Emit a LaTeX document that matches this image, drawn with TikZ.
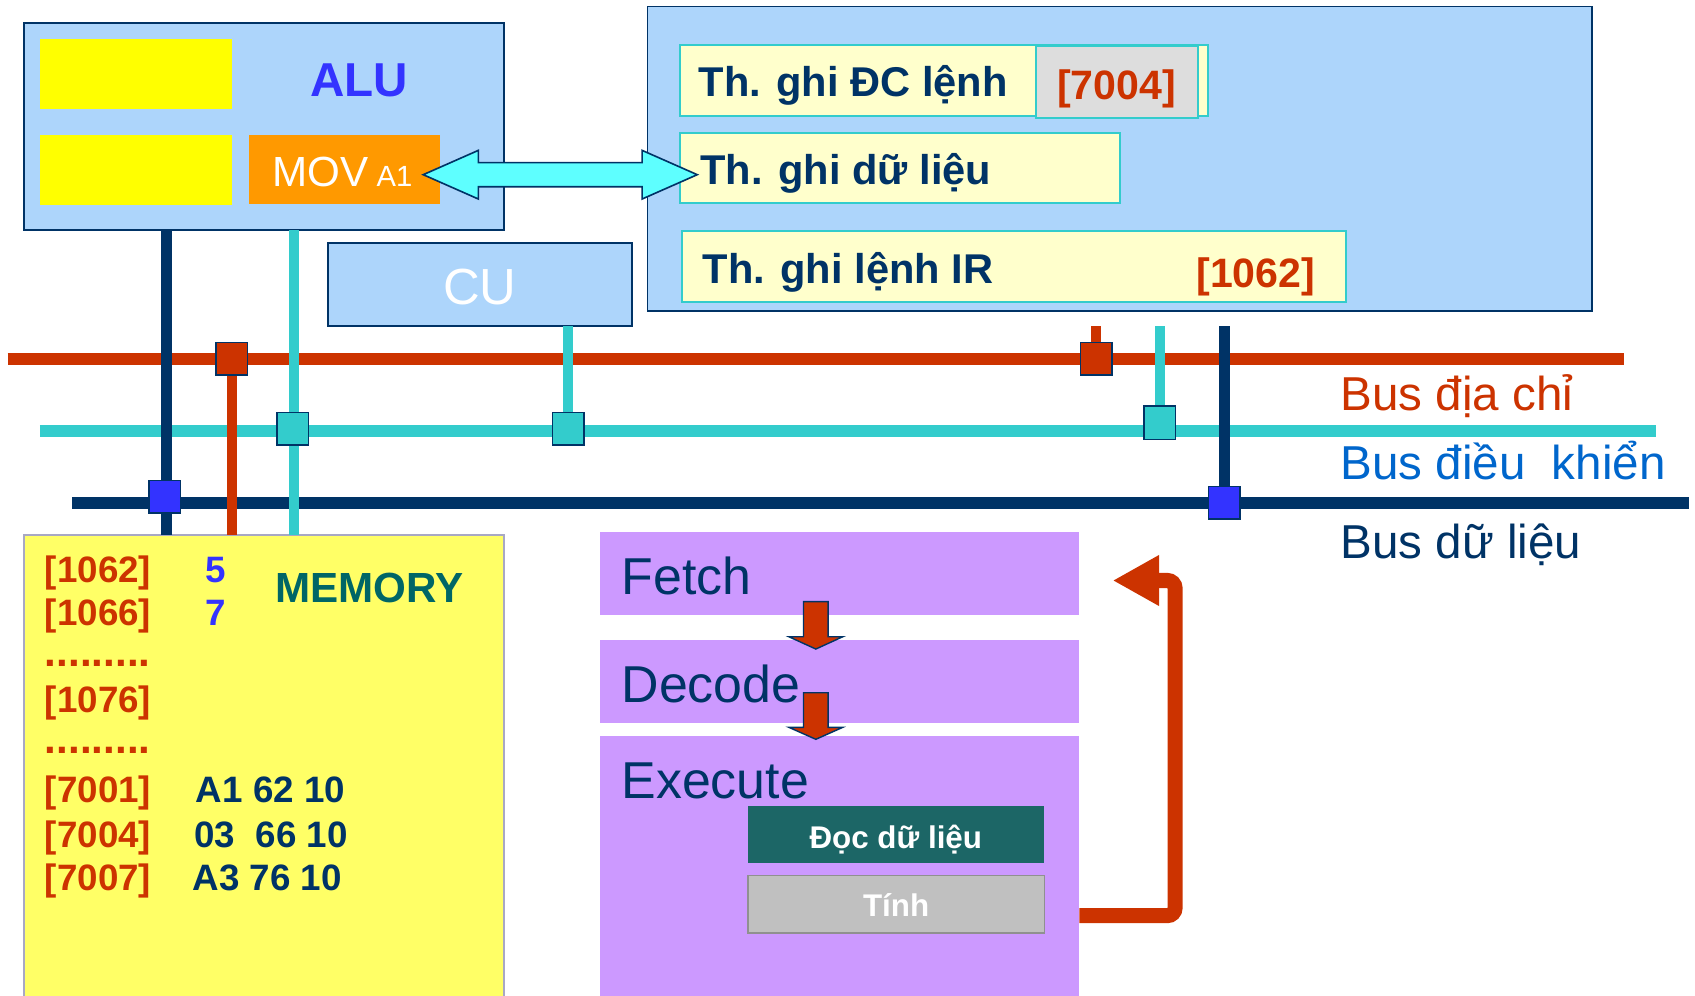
\documentclass[tikz,border=0pt]{standalone}
\usepackage{fontspec}
\setmainfont{Liberation Sans}
\usetikzlibrary{arrows.meta,calc}
\definecolor{navy}{HTML}{003366}
\definecolor{lblue}{HTML}{ADD5FB}
\definecolor{addrred}{HTML}{CC3300}
\definecolor{ctlcyan}{HTML}{33CCCC}
\definecolor{arrcyan}{HTML}{5EFFFF}
\definecolor{regyel}{HTML}{FFFFCC}
\definecolor{memyel}{HTML}{FFFF66}
\definecolor{purp}{HTML}{CC99FF}
\definecolor{tealdk}{HTML}{1C6666}
\definecolor{memteal}{HTML}{006666}
\definecolor{bluetx}{HTML}{3333FF}
\definecolor{busblue}{HTML}{0066CC}
\definecolor{orng}{HTML}{FF9900}
\definecolor{gry}{HTML}{DDDDDD}
\definecolor{tgry}{HTML}{C0C0C0}
\definecolor{tgryb}{HTML}{909090}
\definecolor{membord}{HTML}{A8A8C4}
\definecolor{pureyel}{HTML}{FFFF00}
\newcommand\fsz[1]{\fontsize{#1}{#1}\selectfont}
\begin{document}
\begin{tikzpicture}[x=1pt,y=-1pt,
  box/.style={inner sep=0pt,outer sep=0pt,anchor=north west},
  blk/.style={box,draw=navy,line width=1.8pt,fill=lblue},
  regbox/.style={box,draw=ctlcyan,line width=1.8pt,fill=regyel},
  plainbox/.style={box,draw=none},
  txt/.style={inner sep=0pt,outer sep=0pt,anchor=base west},
  ctxt/.style={inner sep=0pt,outer sep=0pt,anchor=base},
  sqr/.style={draw=navy,line width=1.5pt,minimum width=29pt,minimum height=30pt,inner sep=0pt,outer sep=0pt},
  bus/.style={line width=10.5pt},
  vline/.style={line width=10pt},
  downarr/.style={draw=navy,line width=1.3pt,fill=addrred,line join=miter},
  regtxt/.style={txt,text=navy,font=\fsz{38.5}\bfseries},
  memaddr/.style={txt,text=addrred,font=\fsz{34}\bfseries},
  memdots/.style={txt,text=addrred,font=\fsz{39}\bfseries},
  memval/.style={txt,text=navy,font=\fsz{34}\bfseries},
  stagetxt/.style={txt,text=navy,font=\fsz{48}},
  bustxt/.style={txt,font=\fsz{44}}
]
\useasboundingbox (0,0) rectangle (1568,921);

% ---------- main blocks ----------
\node[blk,minimum width=444pt,minimum height=192pt] (alu) at (22,21) {};
\node[plainbox,fill=pureyel,minimum width=178pt,minimum height=65pt] (y1) at (37,36) {};
\node[plainbox,fill=pureyel,minimum width=178pt,minimum height=65pt] (y2) at (37,125) {};
\node[plainbox,fill=orng,minimum width=177pt,minimum height=64pt] (mov) at (230,125) {};
\node[blk,minimum width=281pt,minimum height=77pt] (cu) at (303.5,224.5) {};
\node[blk,minimum width=873.5pt,minimum height=281.5pt] (regs) at (599,6) {};
\node[regbox,minimum width=488.5pt,minimum height=65pt] (reg1) at (629,42) {};
\node[box,draw=ctlcyan,line width=1.8pt,fill=gry,minimum width=150pt,minimum height=66pt] (pcval) at (958,43) {};
\node[regbox,minimum width=407pt,minimum height=65pt] (reg2) at (629,123) {};
\node[regbox,minimum width=614.5pt,minimum height=65.5pt] (reg3) at (631,214) {};

\node[box,draw=membord,line width=1.5pt,fill=memyel,minimum width=444pt,minimum height=440pt] (mem) at (22,495) {};

\node[plainbox,fill=purp,minimum width=443.5pt,minimum height=76.5pt] (fetch) at (555,492.5) {};
\node[plainbox,fill=purp,minimum width=443.5pt,minimum height=76.5pt] (decode) at (555,592) {};
\node[plainbox,fill=purp,minimum width=443.5pt,minimum height=250pt] (exec) at (555,681) {};
\node[plainbox,fill=tealdk,minimum width=273.5pt,minimum height=53pt] (doc) at (692,745.5) {};
\node[box,draw=tgryb,line width=1.2pt,fill=tgry,minimum width=274pt,minimum height=53pt] (tinh) at (692,810) {};

% ---------- buses ----------
\coordinate (abL) at (7,332);   \coordinate (abR) at (1502,332);
\coordinate (cbL) at (37,398.7); \coordinate (cbR) at (1532,398.7);
\coordinate (dbL) at (67,465.3); \coordinate (dbR) at (1562,465.3);
\draw[bus,addrred] (abL) -- (abR);
\draw[bus,ctlcyan] (cbL) -- (cbR);
\draw[bus,navy] (dbL) -- (dbR);

% ---------- connection squares (positions) ----------
\coordinate (pA1) at (214.5,332);
\coordinate (pA2) at (1014,332);
\coordinate (pC1) at (272,396.7);
\coordinate (pC2) at (525.5,396.7);
\coordinate (pC3) at (1073,391);
\coordinate (pD1) at (154,459.6);
\coordinate (pD2) at (1132.5,465);
\coordinate (stA) at (1014,302);
\coordinate (stC) at (1073,302);
\coordinate (stD) at (1132.5,302);

% ---------- vertical links ----------
\draw[vline,navy] (alu.south -| pD1) -- (mem.north -| pD1);
\draw[line width=9pt,addrred] (pA1) -- (mem.north -| pA1);
\draw[vline,ctlcyan] (alu.south -| pC1) -- (mem.north -| pC1);
\draw[vline,ctlcyan] (cu.south -| pC2) -- (pC2);
\draw[line width=9pt,addrred] (stA) -- (pA2);
\draw[vline,ctlcyan] (stC) -- (pC3);
\draw[vline,navy] (stD) -- (pD2);

\node[sqr,fill=addrred] (sqA1) at (pA1) {};
\node[sqr,fill=addrred] (sqA2) at (pA2) {};
\node[sqr,fill=ctlcyan] (sqC1) at (271,396.7) {};
\node[sqr,fill=ctlcyan] (sqC2) at (pC2) {};
\node[sqr,fill=ctlcyan,minimum height=31pt] (sqC3) at (pC3) {};
\node[sqr,fill=bluetx] (sqD1) at (152.5,459.6) {};
\node[sqr,fill=bluetx] (sqD2) at (pD2) {};

% ---------- double arrow MOV <-> data register ----------
\coordinate (daL) at (391.5,161.6);
\coordinate (daR) at (645,161.6);
\draw[draw=navy,line width=1.5pt,fill=arrcyan,line join=miter]
  (daL) -- ++(51,-22.5) -- ++(0,11.3) -- ($(daR)+(-51,-11.2)$) -- ++(0,-11.3)
  -- (daR) -- ++(-51,22.5) -- ++(0,-11.3) -- ($(daL)+(51,11.2)$) -- ++(0,11.3) -- cycle;

% ---------- stage arrows ----------
\coordinate (da1) at (754.7,556.6);
\coordinate (da2) at (754.7,640.8);
\draw[downarr] ($(da1)+(-11.4,0)$) -- ++(22.8,0) -- ++(0,32.4) -- ++(13.6,0)
  -- ($(da1)+(0,43.8)$) -- ++(-25,-11.4) -- ++(13.6,0) -- cycle;
\draw[downarr] ($(da2)+(-11.4,0)$) -- ++(22.8,0) -- ++(0,32) -- ++(13.6,0)
  -- ($(da2)+(0,43.1)$) -- ++(-25,-11.1) -- ++(13.6,0) -- cycle;

% ---------- loop arrow ----------
\coordinate (loopS) at (998.5,847);
\coordinate (loopT) at (1029.3,537);
\draw[addrred,line width=13.9pt,rounded corners=7pt,
      -{Triangle[length=43pt,width=44pt]}]
  (exec.east |- loopS) -- (1087,847) -- (1087,537) -- (loopT);

% ---------- texts ----------
\node[ctxt,text=bluetx,font=\fsz{44}\bfseries] (aluT) at (332,89.4) {ALU};
\node[txt,text=white] (movT) at (252,172.7) {{\fsz{39}MOV}{\fsz{27} A1}};
\node[ctxt,text=white,font=\fsz{47}] (cuT) at (444,282) {CU};

\node[regtxt] (r1T) at (646.3,89.4) {Th. ghi ĐC lệnh};
\node[ctxt,text=addrred,font=\fsz{38}\bfseries] (r1V) at (1033,92.5) {[7004]};
\node[regtxt] (r2T) at (648,170.5) {Th. ghi dữ liệu};
\node[regtxt] (r3T) at (650,262) {Th. ghi lệnh IR};
\node[ctxt,text=addrred,font=\fsz{38}\bfseries] (r3V) at (1161.6,265.5) {[1062]};

\node[bustxt,text=addrred] (busA) at (1240,379.3) {Bus địa chỉ};
\node[bustxt,text=busblue] (busC) at (1240,444) {Bus điều\ \ khiển};
\node[bustxt,text=navy] (busD) at (1240,517) {Bus dữ liệu};

\node[memaddr] (m1) at (41.6,539) {[1062]};
\node[txt,text=bluetx,font=\fsz{34}\bfseries] (m1v) at (190.3,539) {5};
\node[memaddr] (m2) at (41.6,579) {[1066]};
\node[txt,text=bluetx,font=\fsz{34}\bfseries] (m2v) at (190.3,579) {7};
\node[txt,text=memteal,font=\fsz{39}\bfseries] (memT) at (254.4,557.5) {MEMORY};
\node[memdots] (d1) at (41.6,616.7) {.........};
\node[memaddr] (m3) at (41.6,659.3) {[1076]};
\node[memdots] (d2) at (41.6,697) {.........};
\node[memaddr] (m4) at (41.6,742.5) {[7001]};
\node[memval] (m4v) at (181.3,742.5) {A1 62 10};
\node[memaddr] (m5) at (41.6,783.8) {[7004]};
\node[memval] (m5v) at (179.8,783.8) {03\ \ 66 10};
\node[memaddr] (m6) at (41.6,824) {[7007]};
\node[memval] (m6v) at (178.2,824) {A3 76 10};

\node[stagetxt] (fT) at (575,550.4) {Fetch};
\node[stagetxt] (dT) at (575,650) {Decode};
\node[stagetxt] (eT) at (575,738.5) {Execute};
\node[ctxt,text=white,font=\fsz{29}\bfseries] (docT) at (828.7,784.8) {Đọc dữ liệu};
\node[ctxt,text=white,font=\fsz{29}\bfseries] (tinhT) at (829,848) {Tính};
\end{tikzpicture}
\end{document}
